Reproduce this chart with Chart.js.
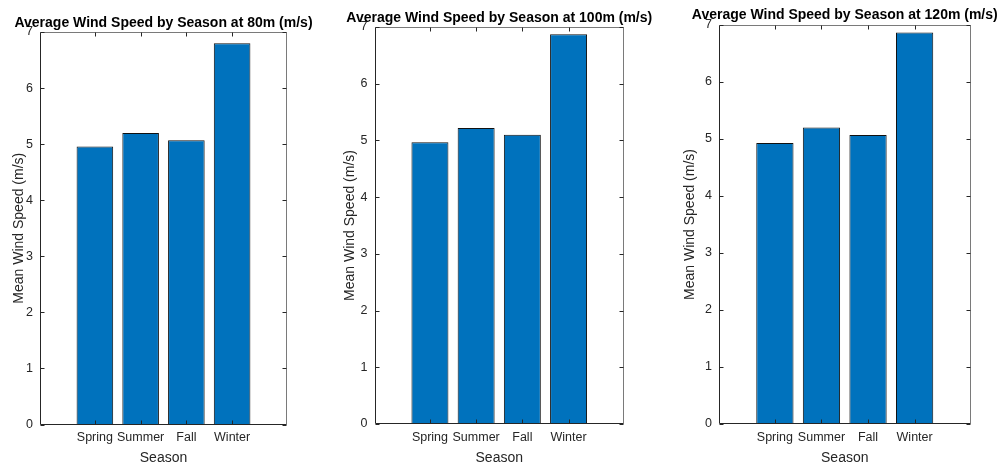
<!DOCTYPE html>
<html>
<head>
<meta charset="utf-8">
<script src="https://cdn.jsdelivr.net/npm/chart.js@4.4.1/dist/chart.umd.min.js"></script>
<style>
  body { margin: 0; background: #fff; }
  #wrap { position: relative; width: 1005px; height: 465px; overflow: hidden; }
  canvas { position: absolute; top: 0; }
</style>
</head>
<body>
<div id="wrap">
  <canvas id="c80" width="330" height="465" style="left:0px"></canvas>
  <canvas id="c100" width="335" height="465" style="left:330px"></canvas>
  <canvas id="c120" width="340" height="465" style="left:665px"></canvas>
</div>
<script>
// data
var seasons = ['Spring', 'Summer', 'Fall', 'Winter'];
var speed80 = [4.96, 5.20, 5.07, 6.80];
var speed100 = [4.97, 5.22, 5.10, 6.87];
var speed120 = [4.93, 5.20, 5.07, 6.87];
var yTicks = [0, 1, 2, 3, 4, 5, 6, 7];

var AX = '#262626';
var FONT = '"Liberation Sans", Arial, Helvetica, sans-serif';
var H = 465;

Chart.defaults.font.family = FONT;
Chart.defaults.color = AX;

// matlab style box: frame, inward ticks on all 4 sides, title over the axes
var matlabBox = {
  id: 'matlabBox',
  afterDatasetsDraw: function(chart, args, opts) {
    var ctx = chart.ctx, a = chart.chartArea;
    var xs = chart.scales.x, ys = chart.scales.y;
    var L = Math.round(a.left) + 0.5, R = Math.round(a.right) - 0.5;
    var T = Math.round(a.top) + 0.5, B = Math.round(a.bottom) - 0.5;
    var tl = 4;
    ctx.save();
    ctx.lineWidth = 1;
    ctx.strokeStyle = '#7a7a7a';
    ctx.beginPath();
    ctx.moveTo(L, T); ctx.lineTo(R, T); ctx.lineTo(R, B);
    ctx.stroke();
    ctx.strokeStyle = AX;
    ctx.beginPath();
    ctx.moveTo(L, T); ctx.lineTo(L, B); ctx.lineTo(R, B);
    xs.ticks.forEach(function(t) {
      var px = Math.round(xs.getPixelForValue(t.value)) + 0.5;
      ctx.moveTo(px, B); ctx.lineTo(px, B - tl);
      ctx.moveTo(px, T); ctx.lineTo(px, T + tl);
    });
    ys.ticks.forEach(function(t) {
      var py = Math.round(ys.getPixelForValue(t.value)) + 0.5;
      ctx.moveTo(L, py); ctx.lineTo(L + tl, py);
      ctx.moveTo(R, py); ctx.lineTo(R - tl, py);
    });
    ctx.stroke();
    ctx.restore();
  },
  afterDraw: function(chart, args, opts) {
    var ctx = chart.ctx, a = chart.chartArea;
    ctx.save();
    ctx.font = 'bold 14px ' + FONT;
    ctx.fillStyle = '#000';
    ctx.textAlign = 'center';
    ctx.textBaseline = 'alphabetic';
    ctx.fillText(opts.text, (a.left + a.right) / 2, opts.baseline);
    ctx.restore();
  }
};

function createPanel(id, title, values, lay) {
  var ctx = document.getElementById(id).getContext('2d');
  return new Chart(ctx, {
    type: 'bar',
    data: {
      datasets: [{
        data: values.map(function(v, i) { return {x: i, y: v}; }),
        backgroundColor: '#0072BD',
        borderColor: '#111',
        borderWidth: 1,
        barPercentage: 0.8,
        categoryPercentage: 1.0
      }]
    },
    options: {
      responsive: false,
      animation: false,
      layout: {
        padding: {left: 0, right: lay.canvasRight - lay.right, top: lay.top, bottom: 0}
      },
      plugins: {
        legend: {display: false},
        tooltip: {enabled: false},
        matlabBox: {text: title, baseline: lay.titleBase}
      },
      scales: {
        x: {
          type: 'linear',
          offset: false,
          min: -1.2,
          max: 4.2,
          afterBuildTicks: function(s) {
            s.ticks = seasons.map(function(n, i) { return {value: i}; });
          },
          afterFit: function(s) { s.height = H - lay.bottom; },
          ticks: {
            autoSkip: false,
            maxRotation: 0,
            padding: 6,
            font: {size: 12.5},
            callback: function(v) { return seasons[v]; }
          },
          grid: {display: false, drawTicks: false, offset: false},
          border: {display: false},
          title: {display: true, text: 'Season', font: {size: 14}, padding: {top: 0, bottom: -2}}
        },
        y: {
          min: 0,
          max: 7,
          afterBuildTicks: function(s) {
            s.ticks = yTicks.map(function(v) { return {value: v}; });
          },
          afterFit: function(s) { s.width = lay.left - lay.canvasLeft; },
          ticks: {padding: 7, font: {size: 12.5}},
          grid: {display: false, drawTicks: false},
          border: {display: false},
          title: {display: true, text: 'Mean Wind Speed (m/s)', font: {size: 14},
                  padding: {top: lay.yTitlePad, bottom: 0}}
        }
      }
    },
    plugins: [matlabBox]
  });
}

createPanel('c80', 'Average Wind Speed by Season at 80m (m/s)', speed80,
  {canvasLeft: 0, canvasRight: 330, left: 40, right: 287, top: 32, bottom: 424.5, yTitlePad: 10.5, titleBase: 27});
createPanel('c100', 'Average Wind Speed by Season at 100m (m/s)', speed100,
  {canvasLeft: 330, canvasRight: 665, left: 374.5, right: 624, top: 27, bottom: 424, yTitlePad: 11.5, titleBase: 21.5});
createPanel('c120', 'Average Wind Speed by Season at 120m (m/s)', speed120,
  {canvasLeft: 665, canvasRight: 1005, left: 719, right: 970.5, top: 25, bottom: 424, yTitlePad: 16.5, titleBase: 19});
</script>
</body>
</html>
